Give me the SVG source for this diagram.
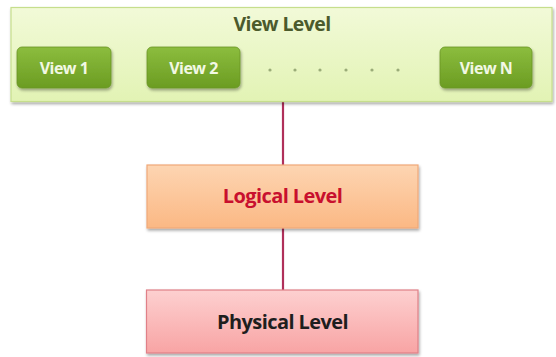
<svg xmlns="http://www.w3.org/2000/svg" width="556" height="357" viewBox="0 0 556 357">
<defs>
<linearGradient id="gView" x1="0" y1="0" x2="0" y2="1">
<stop offset="0" stop-color="#f2fad8"/><stop offset="1" stop-color="#e2f3b4"/>
</linearGradient>
<linearGradient id="gBtn" x1="0" y1="0" x2="0" y2="1">
<stop offset="0" stop-color="#8cbd3e"/><stop offset="1" stop-color="#6b9c22"/>
</linearGradient>
<linearGradient id="gLog" x1="0" y1="0" x2="0" y2="1">
<stop offset="0" stop-color="#fdd5b2"/><stop offset="1" stop-color="#fbb884"/>
</linearGradient>
<linearGradient id="gPhy" x1="0" y1="0" x2="0" y2="1">
<stop offset="0" stop-color="#fdd0d0"/><stop offset="1" stop-color="#f8a4a4"/>
</linearGradient>
<filter id="sh" x="-5%" y="-10%" width="110%" height="130%">
<feGaussianBlur in="SourceAlpha" stdDeviation="1.5"/><feOffset dx="1" dy="1.5"/>
<feComponentTransfer><feFuncA type="linear" slope="0.35"/></feComponentTransfer>
<feMerge><feMergeNode/><feMergeNode in="SourceGraphic"/></feMerge>
</filter>
</defs>
<style>
text{font-family:"Open Sans","Liberation Sans",sans-serif;font-weight:bold;text-anchor:middle}
.title{font-size:19.5px;fill:#4b5a2c;letter-spacing:-0.6px}
.btn{fill:url(#gBtn);stroke:#6a9624;stroke-width:0.8}
.btxt{font-size:16px;fill:#f2f8e4;letter-spacing:-0.5px}
.dot{fill:#9aac78}
.lvl{font-size:20px;letter-spacing:-0.6px}
</style>
<rect width="556" height="357" fill="#ffffff"/>
<g id="connectors">
<line x1="283" y1="101" x2="283" y2="165" stroke="#b0305a" stroke-width="2.2"/>
<line x1="283" y1="228" x2="283" y2="290" stroke="#b0305a" stroke-width="2.2"/>
</g>
<g id="view-level">
<rect x="11" y="7.5" width="541" height="94" fill="url(#gView)" stroke="#c6de8c" stroke-width="1.2" filter="url(#sh)"/>
<text class="title" x="282" y="31">View Level</text>
</g>
<g id="view1">
<rect class="btn" x="17" y="47" width="94" height="41" rx="5" filter="url(#sh)"/>
<text class="btxt" x="64" y="73.5">View 1</text>
</g>
<g id="view2">
<rect class="btn" x="147" y="47" width="93" height="41" rx="5" filter="url(#sh)"/>
<text class="btxt" x="193.5" y="73.5">View 2</text>
</g>
<g id="dots">
<circle class="dot" cx="270" cy="70" r="1.6"/>
<circle class="dot" cx="295" cy="70" r="1.6"/>
<circle class="dot" cx="320" cy="70" r="1.6"/>
<circle class="dot" cx="346" cy="70" r="1.6"/>
<circle class="dot" cx="372" cy="70" r="1.6"/>
<circle class="dot" cx="398" cy="70" r="1.6"/>
</g>
<g id="viewN">
<rect class="btn" x="440" y="47" width="92" height="41" rx="5" filter="url(#sh)"/>
<text class="btxt" x="486" y="73.5">View N</text>
</g>
<g id="logical-level">
<rect x="147" y="165" width="271" height="63" fill="url(#gLog)" stroke="#f0a878" stroke-width="1.2" filter="url(#sh)"/>
<text class="lvl" x="282.5" y="203" fill="#c8102e">Logical Level</text>
</g>
<g id="physical-level">
<rect x="146.5" y="290" width="271.5" height="63" fill="url(#gPhy)" stroke="#e08088" stroke-width="1.2" filter="url(#sh)"/>
<text class="lvl" x="282.5" y="329" fill="#1e1e1e">Physical Level</text>
</g>
</svg>
